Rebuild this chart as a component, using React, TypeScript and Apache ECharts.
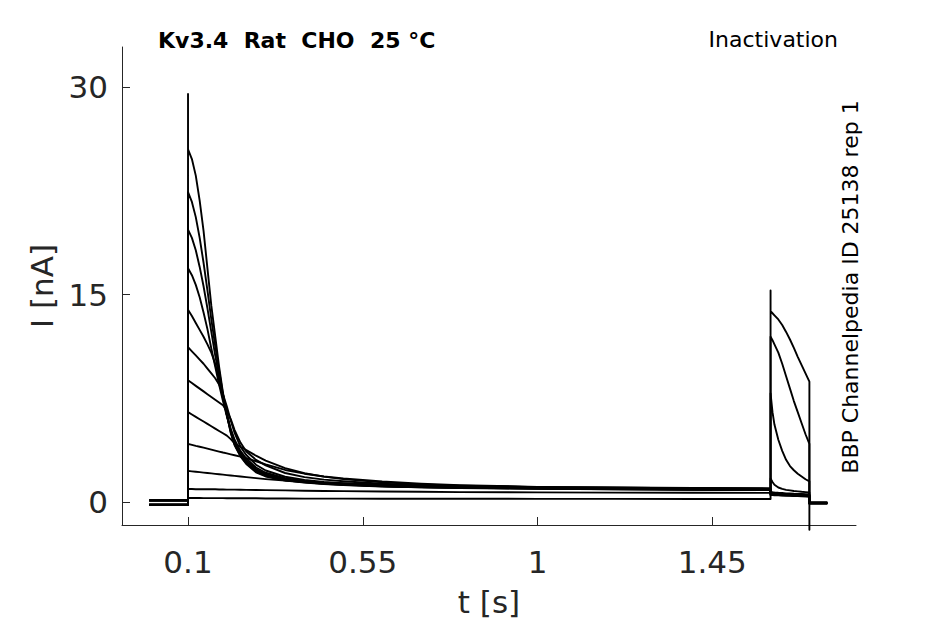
import React, { useEffect, useRef } from "react";
import * as echarts from "echarts";

// sample times (s)
const holdTimes = [0, 0.1];
const preTimes = [0.1, 0.11, 0.12, 0.13, 0.14, 0.15, 0.16, 0.17, 0.18, 0.19, 0.2, 0.21, 0.22, 0.235, 0.25, 0.275, 0.3, 0.35, 0.4, 0.45, 0.5, 0.6, 0.7, 0.8, 1.0, 1.2, 1.4, 1.6];
const testTimes = [1.6, 1.605, 1.61, 1.62, 1.63, 1.64, 1.65, 1.66, 1.67, 1.68, 1.69, 1.7];
const tailTimes = [1.7, 1.746];

// tick labels
const xTicks = [0.1, 0.55, 1, 1.45];
const yTicks = [0, 15, 30];

// holding current before the prepulse (nA)
const holdLevels = [-0.2, -0.2, -0.2, -0.2, -0.2, -0.2, 0.1, 0.1, 0.12, 0.1, 0.12, 0.15];

// prepulse currents (nA)
const preA = [25.5, 24.8, 23.6, 21.8, 19.6, 16.9, 14.2, 12.0, 9.8, 7.9, 6.3, 5.0, 4.1, 3.3, 2.75, 2.15, 1.85, 1.55, 1.4, 1.3, 1.22, 1.12, 1.06, 1.02, 0.96, 0.92, 0.89, 0.86];
const preB = [22.4, 21.7, 20.6, 19.1, 17.3, 15.3, 13.2, 11.3, 9.5, 7.8, 6.3, 5.05, 4.15, 3.35, 2.8, 2.2, 1.9, 1.58, 1.42, 1.32, 1.24, 1.13, 1.07, 1.03, 0.97, 0.93, 0.9, 0.87];
const preC = [19.7, 19.1, 18.2, 17.0, 15.6, 14.0, 12.3, 10.6, 9.1, 7.7, 6.4, 5.15, 4.25, 3.45, 2.9, 2.3, 1.95, 1.62, 1.45, 1.34, 1.26, 1.15, 1.08, 1.04, 0.98, 0.94, 0.91, 0.88];
const preD = [16.9, 16.4, 15.7, 14.8, 13.7, 12.5, 11.1, 9.8, 8.5, 7.3, 6.2, 5.2, 4.35, 3.55, 3.0, 2.38, 2.02, 1.67, 1.48, 1.37, 1.28, 1.16, 1.09, 1.05, 0.99, 0.95, 0.92, 0.89];
const preE = [13.9, 13.45, 12.95, 12.45, 11.95, 11.4, 10.8, 10.0, 8.8, 7.5, 6.3, 5.3, 4.5, 3.7, 3.15, 2.5, 2.12, 1.73, 1.53, 1.4, 1.31, 1.18, 1.11, 1.06, 1.0, 0.96, 0.93, 0.9];
const preF = [11.2, 10.9, 10.6, 10.3, 10.0, 9.65, 9.3, 8.95, 8.5, 7.8, 6.9, 5.9, 5.0, 4.0, 3.4, 2.7, 2.28, 1.83, 1.6, 1.46, 1.36, 1.22, 1.14, 1.08, 1.01, 0.97, 0.94, 0.91];
const preG = [8.8, 8.6, 8.4, 8.2, 8.0, 7.8, 7.6, 7.4, 7.2, 7.0, 6.6, 6.0, 5.2, 4.3, 3.65, 3.05, 2.65, 2.1, 1.8, 1.62, 1.5, 1.32, 1.2, 1.13, 1.04, 0.99, 0.96, 0.93];
const preH = [6.5, 6.33, 6.16, 5.99, 5.82, 5.65, 5.48, 5.31, 5.14, 4.97, 4.8, 4.55, 4.25, 4.0, 3.75, 3.35, 3.0, 2.45, 2.08, 1.84, 1.66, 1.42, 1.28, 1.19, 1.08, 1.03, 1.0, 0.97];
const preI = [4.2, 4.13, 4.06, 4.0, 3.93, 3.86, 3.79, 3.72, 3.65, 3.58, 3.52, 3.45, 3.38, 3.28, 3.17, 2.95, 2.72, 2.32, 2.05, 1.85, 1.7, 1.48, 1.33, 1.22, 1.1, 1.05, 1.02, 0.99];
const preJ = [2.25, 2.22, 2.19, 2.16, 2.13, 2.1, 2.07, 2.04, 2.01, 1.98, 1.95, 1.92, 1.89, 1.85, 1.8, 1.73, 1.66, 1.55, 1.47, 1.4, 1.35, 1.27, 1.2, 1.15, 1.08, 1.03, 1.0, 0.97];
const preK = [0.94, 0.94, 0.93, 0.93, 0.93, 0.92, 0.92, 0.92, 0.91, 0.91, 0.9, 0.9, 0.9, 0.89, 0.88, 0.87, 0.86, 0.84, 0.82, 0.8, 0.79, 0.76, 0.74, 0.72, 0.7, 0.68, 0.67, 0.66];
const preL = [0.29, 0.29, 0.29, 0.29, 0.28, 0.28, 0.28, 0.28, 0.28, 0.28, 0.27, 0.27, 0.27, 0.27, 0.27, 0.27, 0.26, 0.26, 0.25, 0.25, 0.25, 0.24, 0.24, 0.24, 0.23, 0.23, 0.22, 0.22];

// test pulse currents (nA)
const testA = [0.6, 0.58, 0.56, 0.54, 0.52, 0.5, 0.5, 0.49, 0.48, 0.47, 0.46, 0.45];
const testB = [0.55, 0.54, 0.52, 0.5, 0.49, 0.48, 0.47, 0.46, 0.45, 0.44, 0.42, 0.4];
const testC = [0.6, 0.58, 0.56, 0.55, 0.53, 0.52, 0.5, 0.5, 0.49, 0.48, 0.46, 0.45];
const testD = [0.5, 0.5, 0.49, 0.48, 0.47, 0.46, 0.45, 0.44, 0.43, 0.42, 0.41, 0.4];
const testE = [0.62, 0.6, 0.58, 0.57, 0.56, 0.55, 0.54, 0.53, 0.52, 0.51, 0.5, 0.5];
const testF = [0.56, 0.55, 0.53, 0.52, 0.51, 0.5, 0.5, 0.49, 0.48, 0.47, 0.46, 0.45];
const testG = [0.66, 0.65, 0.63, 0.62, 0.6, 0.59, 0.58, 0.57, 0.56, 0.55, 0.53, 0.52];
const testH = [0.75, 0.72, 0.7, 0.67, 0.65, 0.63, 0.62, 0.6, 0.59, 0.58, 0.57, 0.56];
const testI = [1.7, 1.45, 1.25, 1.05, 0.95, 0.88, 0.84, 0.8, 0.77, 0.74, 0.72, 0.7];
const testJ = [7.86, 6.5, 5.6, 4.5, 3.7, 3.05, 2.6, 2.3, 2.05, 1.85, 1.65, 1.5];
const testK = [11.95, 11.7, 11.4, 10.8, 10.0, 9.1, 8.2, 7.3, 6.5, 5.7, 4.9, 4.2];
const testL = [13.8, 13.65, 13.5, 13.2, 12.8, 12.3, 11.75, 11.15, 10.5, 9.9, 9.3, 8.7];

// after the test pulse (nA)
const tailLevels = [-0.05, -0.1, -0.05, -0.1, -0.05, -0.1, -0.05, -0.1, -0.05, -0.1, -0.05, -0.1];

// transient spikes (nA): onset of prepulse on trace A, onset and offset of test pulse on trace L
const preSpike = 29.5;
const testSpike = 15.3;
const offSpike = -2.0;

const preTraces = [preA, preB, preC, preD, preE, preF, preG, preH, preI, preJ, preK, preL];
const testTraces = [testA, testB, testC, testD, testE, testF, testG, testH, testI, testJ, testK, testL];

export default function App() {
  const ref = useRef<HTMLDivElement>(null);
  useEffect(() => {
    if (!ref.current) return;
    const chart = echarts.init(ref.current, undefined, { renderer: "svg" });
    const series = preTraces.map((pre, i) => {
      const pts: number[][] = [];
      holdTimes.forEach((t) => pts.push([t, holdLevels[i]]));
      if (i === 0) pts.push([preTimes[0], preSpike]);
      preTimes.forEach((t, k) => pts.push([t, pre[k]]));
      const test = testTraces[i];
      if (i === preTraces.length - 1) pts.push([testTimes[0], testSpike]);
      testTimes.forEach((t, k) => pts.push([t, test[k]]));
      if (i === preTraces.length - 1) pts.push([tailTimes[0], offSpike]);
      tailTimes.forEach((t) => pts.push([t, tailLevels[i]]));
      return {
        type: "line",
        data: pts,
        showSymbol: false,
        symbol: "none",
        clip: false,
        lineStyle: { color: "#000", width: 1.9, join: "round" },
        z: 3,
      };
    });
    const axisColor = "#262626";
    chart.setOption({
      animation: false,
      grid: { left: 122, right: 89, top: 47, bottom: 99, containLabel: false },
      xAxis: {
        type: "value",
        min: -0.07,
        max: 1.82,
        name: "t [s]",
        nameLocation: "middle",
        nameGap: 61,
        nameTextStyle: { fontSize: 31, color: axisColor, fontFamily: "DejaVu Sans" },
        axisLine: { show: true, onZero: false, lineStyle: { color: axisColor, width: 1 } },
        axisTick: { show: true, inside: true, length: 8, customValues: xTicks, lineStyle: { color: axisColor } },
        axisLabel: {
          show: true,
          customValues: xTicks,
          fontSize: 31,
          color: axisColor,
          fontFamily: "DejaVu Sans",
          margin: 21,
          formatter: (v: number) => String(v),
        },
        splitLine: { show: false },
      },
      yAxis: {
        type: "value",
        min: -1.66,
        max: 32.9,
        name: "I [nA]",
        nameLocation: "middle",
        nameGap: 64,
        nameTextStyle: { fontSize: 31, color: axisColor, fontFamily: "DejaVu Sans" },
        axisLine: { show: true, onZero: false, lineStyle: { color: axisColor, width: 1 } },
        axisTick: { show: true, inside: true, length: 8, customValues: yTicks, lineStyle: { color: axisColor } },
        axisLabel: {
          show: true,
          customValues: yTicks,
          fontSize: 31,
          color: axisColor,
          fontFamily: "DejaVu Sans",
          margin: 14,
          formatter: (v: number) => String(v),
        },
        splitLine: { show: false },
      },
      graphic: [
        {
          type: "text",
          x: 158,
          y: 40,
          style: {
            text: "Kv3.4  Rat  CHO  25 °C",
            font: "bold 22px 'DejaVu Sans'",
            fill: "#000",
            textAlign: "left",
            textVerticalAlign: "middle",
          },
        },
        {
          type: "text",
          x: 838,
          y: 39,
          style: {
            text: "Inactivation",
            font: "22px 'DejaVu Sans'",
            fill: "#000",
            textAlign: "right",
            textVerticalAlign: "middle",
          },
        },
        {
          type: "text",
          x: 850,
          y: 287,
          rotation: Math.PI / 2,
          style: {
            text: "BBP Channelpedia ID 25138 rep 1",
            font: "22px 'DejaVu Sans'",
            fill: "#000",
            textAlign: "center",
            textVerticalAlign: "middle",
          },
        },
      ],
      series,
    });
    return () => chart.dispose();
  }, []);
  return (
    <div
      ref={ref}
      style={{ position: "fixed", left: 0, top: 0, width: 945, height: 624, background: "#fff" }}
    />
  );
}
